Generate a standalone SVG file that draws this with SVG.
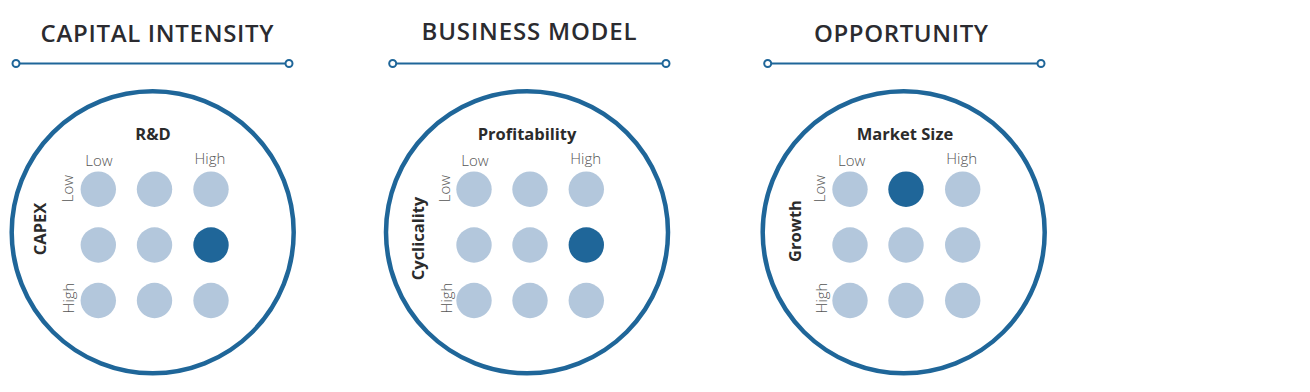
<svg xmlns="http://www.w3.org/2000/svg" width="1310" height="392" viewBox="0 0 1310 392">
  <style>
    .title { font-family: "Open Sans", "DejaVu Sans", sans-serif; font-weight: 600; font-size: 24px; fill: #2b2b30; text-anchor: middle; }
    .axis { font-family: "Open Sans", "DejaVu Sans", sans-serif; font-weight: 700; font-size: 16.5px; fill: #2b2b2b; text-anchor: middle; }
    .lvl { font-family: "Open Sans", "DejaVu Sans", sans-serif; font-weight: 300; font-size: 15px; fill: #555; text-anchor: middle; }
    .rule { stroke: #1f6699; stroke-width: 2; fill: none; }
    .end { stroke: #1f6699; stroke-width: 2; fill: #fff; }
    .ring { stroke: #1f6699; stroke-width: 4.5; fill: #fff; }
    .dot { fill: #b3c7dc; }
    .sel { fill: #1f6699; }
  </style>
  <rect width="1310" height="392" fill="#fff"/>

  <g id="capital-intensity">
    <text class="title" x="157" y="42" textLength="233" lengthAdjust="spacing">CAPITAL INTENSITY</text>
    <line class="rule" x1="16" y1="63.5" x2="289" y2="63.5"/>
    <circle class="end" cx="16" cy="63.5" r="3.5"/>
    <circle class="end" cx="289" cy="63.5" r="3.5"/>
    <circle class="ring" cx="152.7" cy="232.3" r="141"/>
    <text class="axis" x="153" y="140">R&amp;D</text>
    <text class="lvl" x="99" y="165.5">Low</text>
    <text class="lvl" x="210" y="163.5">High</text>
    <text class="lvl" transform="translate(72.5,188.5) rotate(-90)">Low</text>
    <text class="lvl" transform="translate(74,298) rotate(-90)">High</text>
    <text class="axis" transform="translate(45.5,229) rotate(-90)">CAPEX</text>
    <circle class="dot" cx="98.3" cy="189.2" r="17.7"/>
    <circle class="dot" cx="154.5" cy="189.2" r="17.7"/>
    <circle class="dot" cx="211" cy="189.2" r="17.7"/>
    <circle class="dot" cx="98.3" cy="245" r="17.7"/>
    <circle class="dot" cx="154.5" cy="245" r="17.7"/>
    <circle class="sel" cx="211" cy="245" r="17.7"/>
    <circle class="dot" cx="98.3" cy="300.5" r="17.7"/>
    <circle class="dot" cx="154.5" cy="300.5" r="17.7"/>
    <circle class="dot" cx="211" cy="300.5" r="17.7"/>
  </g>

  <g id="business-model">
    <text class="title" x="529" y="40" textLength="215" lengthAdjust="spacing">BUSINESS MODEL</text>
    <line class="rule" x1="392.7" y1="63.5" x2="666" y2="63.5"/>
    <circle class="end" cx="392.7" cy="63.5" r="3.5"/>
    <circle class="end" cx="666" cy="63.5" r="3.5"/>
    <circle class="ring" cx="527" cy="232.3" r="141"/>
    <text class="axis" x="527" y="140">Profitability</text>
    <text class="lvl" x="475" y="165.5">Low</text>
    <text class="lvl" x="585.7" y="163.5">High</text>
    <text class="lvl" transform="translate(449.5,188.5) rotate(-90)">Low</text>
    <text class="lvl" transform="translate(451.5,298) rotate(-90)">High</text>
    <text class="axis" transform="translate(424,238.5) rotate(-90)">Cyclicality</text>
    <circle class="dot" cx="474" cy="189.2" r="17.7"/>
    <circle class="dot" cx="530" cy="189.2" r="17.7"/>
    <circle class="dot" cx="586.3" cy="189.2" r="17.7"/>
    <circle class="dot" cx="474" cy="245" r="17.7"/>
    <circle class="dot" cx="530" cy="245" r="17.7"/>
    <circle class="sel" cx="586.3" cy="245" r="17.7"/>
    <circle class="dot" cx="474" cy="300.5" r="17.7"/>
    <circle class="dot" cx="530" cy="300.5" r="17.7"/>
    <circle class="dot" cx="586.3" cy="300.5" r="17.7"/>
  </g>

  <g id="opportunity">
    <text class="title" x="901" y="41.5" textLength="174" lengthAdjust="spacing">OPPORTUNITY</text>
    <line class="rule" x1="767.7" y1="63.5" x2="1041" y2="63.5"/>
    <circle class="end" cx="767.7" cy="63.5" r="3.5"/>
    <circle class="end" cx="1041" cy="63.5" r="3.5"/>
    <circle class="ring" cx="903.7" cy="232.3" r="141"/>
    <text class="axis" x="905" y="140">Market Size</text>
    <text class="lvl" x="851.7" y="165.5">Low</text>
    <text class="lvl" x="961.7" y="163.5">High</text>
    <text class="lvl" transform="translate(825,188.5) rotate(-90)">Low</text>
    <text class="lvl" transform="translate(826.7,298) rotate(-90)">High</text>
    <text class="axis" transform="translate(801,231) rotate(-90)">Growth</text>
    <circle class="dot" cx="850" cy="189.2" r="17.7"/>
    <circle class="sel" cx="906" cy="189.2" r="17.7"/>
    <circle class="dot" cx="962.7" cy="189.2" r="17.7"/>
    <circle class="dot" cx="850" cy="245" r="17.7"/>
    <circle class="dot" cx="906" cy="245" r="17.7"/>
    <circle class="dot" cx="962.7" cy="245" r="17.7"/>
    <circle class="dot" cx="850" cy="300.5" r="17.7"/>
    <circle class="dot" cx="906" cy="300.5" r="17.7"/>
    <circle class="dot" cx="962.7" cy="300.5" r="17.7"/>
  </g>

  <g id="connectors"></g>
</svg>
